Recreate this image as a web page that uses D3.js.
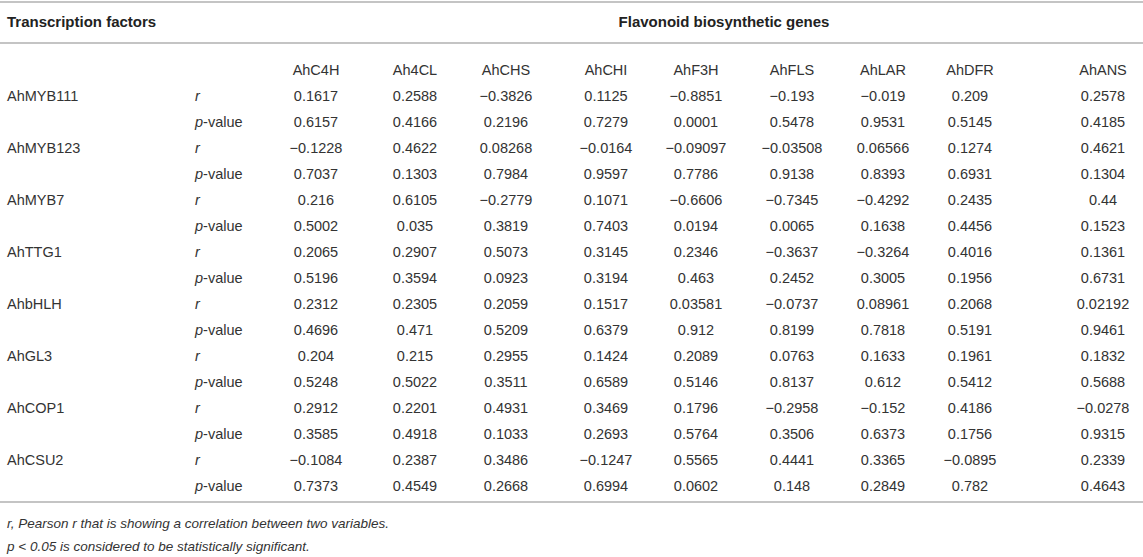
<!DOCTYPE html>
<html>
<head>
<meta charset="utf-8">
<script src="https://cdn.jsdelivr.net/npm/d3@7"></script>
<style>
  body { margin: 0; background: #fff; }
  svg { display: block; font-family: "Liberation Sans", Arial, Helvetica, sans-serif; }
  .cell { font-size: 14.5px; fill: #333; }
  .head { font-size: 15px; font-weight: bold; fill: #222; }
  .note { font-size: 13.5px; font-style: italic; fill: #333; }
  .rule { stroke: #c4c4c4; stroke-width: 2; }
</style>
</head>
<body>
<svg id="table"></svg>
<script>
(function () {
  const factors = ["AhMYB111", "AhMYB123", "AhMYB7", "AhTTG1", "AhbHLH", "AhGL3", "AhCOP1", "AhCSU2"];
  const genes = ["AhC4H", "Ah4CL", "AhCHS", "AhCHI", "AhF3H", "AhFLS", "AhLAR", "AhDFR", "AhANS"];

  // Pearson r, one row per factor, one column per gene
  const rValues = [
    [0.1617, 0.2588, -0.3826, 0.1125, -0.8851, -0.193, -0.019, 0.209, 0.2578],
    [-0.1228, 0.4622, 0.08268, -0.0164, -0.09097, -0.03508, 0.06566, 0.1274, 0.4621],
    [0.216, 0.6105, -0.2779, 0.1071, -0.6606, -0.7345, -0.4292, 0.2435, 0.44],
    [0.2065, 0.2907, 0.5073, 0.3145, 0.2346, -0.3637, -0.3264, 0.4016, 0.1361],
    [0.2312, 0.2305, 0.2059, 0.1517, 0.03581, -0.0737, 0.08961, 0.2068, 0.02192],
    [0.204, 0.215, 0.2955, 0.1424, 0.2089, 0.0763, 0.1633, 0.1961, 0.1832],
    [0.2912, 0.2201, 0.4931, 0.3469, 0.1796, -0.2958, -0.152, 0.4186, -0.0278],
    [-0.1084, 0.2387, 0.3486, -0.1247, 0.5565, 0.4441, 0.3365, -0.0895, 0.2339]
  ];

  // p-values, same layout
  const pValues = [
    [0.6157, 0.4166, 0.2196, 0.7279, 0.0001, 0.5478, 0.9531, 0.5145, 0.4185],
    [0.7037, 0.1303, 0.7984, 0.9597, 0.7786, 0.9138, 0.8393, 0.6931, 0.1304],
    [0.5002, 0.035, 0.3819, 0.7403, 0.0194, 0.0065, 0.1638, 0.4456, 0.1523],
    [0.5196, 0.3594, 0.0923, 0.3194, 0.463, 0.2452, 0.3005, 0.1956, 0.6731],
    [0.4696, 0.471, 0.5209, 0.6379, 0.912, 0.8199, 0.7818, 0.5191, 0.9461],
    [0.5248, 0.5022, 0.3511, 0.6589, 0.5146, 0.8137, 0.612, 0.5412, 0.5688],
    [0.3585, 0.4918, 0.1033, 0.2693, 0.5764, 0.3506, 0.6373, 0.1756, 0.9315],
    [0.7373, 0.4549, 0.2668, 0.6994, 0.0602, 0.148, 0.2849, 0.782, 0.4643]
  ];

  const notes = [
    "r, Pearson r that is showing a correlation between two variables.",
    "p < 0.05 is considered to be statistically significant."
  ];

  const width = 1143, height = 557;
  const svg = d3.select("#table").attr("width", width).attr("height", height);

  const fmt = v => String(v).replace("-", "\u2212");

  // column centres (html table columns are not all the same width)
  const colCenters = [316, 415, 506, 606, 696, 792, 883, 970, 1103];
  const x = d3.scaleOrdinal().domain(genes).range(colCenters);
  const rows = factors.flatMap(f => [f + "|r", f + "|p"]);
  const y = d3.scalePoint().domain(["genes"].concat(rows)).range([70, 486]);

  const labelX = 7, statX = 195;

  // rules
  [2, 43, 502].forEach(ry => {
    svg.append("line").attr("class", "rule")
      .attr("x1", 0).attr("x2", width).attr("y1", ry).attr("y2", ry);
  });

  // header
  svg.append("text").attr("class", "head")
    .attr("x", labelX).attr("y", 22).attr("dy", "0.35em")
    .text("Transcription factors");

  svg.append("text").attr("class", "head")
    .attr("x", 724).attr("y", 22).attr("dy", "0.35em")
    .attr("text-anchor", "middle")
    .text("Flavonoid biosynthetic genes");

  svg.selectAll("text.gene").data(genes).enter().append("text")
    .attr("class", "cell gene")
    .attr("x", d => x(d)).attr("y", y("genes")).attr("dy", "0.35em")
    .attr("text-anchor", "middle")
    .text(d => d);

  // factor names
  svg.selectAll("text.factor").data(factors).enter().append("text")
    .attr("class", "cell factor")
    .attr("x", labelX).attr("y", d => y(d + "|r")).attr("dy", "0.35em")
    .text(d => d);

  // r / p-value labels
  factors.forEach(f => {
    svg.append("text").attr("class", "cell")
      .attr("x", statX).attr("y", y(f + "|r")).attr("dy", "0.35em")
      .style("font-style", "italic")
      .text("r");
    const pt = svg.append("text").attr("class", "cell")
      .attr("x", statX).attr("y", y(f + "|p")).attr("dy", "0.35em");
    pt.append("tspan").style("font-style", "italic").text("p");
    pt.append("tspan").text("-value");
  });

  // values
  const cells = factors.flatMap((f, i) => genes.flatMap((g, j) => [
    { row: f + "|r", gene: g, value: rValues[i][j] },
    { row: f + "|p", gene: g, value: pValues[i][j] }
  ]));

  svg.selectAll("text.val").data(cells).enter().append("text")
    .attr("class", "cell val")
    .attr("x", d => x(d.gene)).attr("y", d => y(d.row)).attr("dy", "0.35em")
    .attr("text-anchor", "middle")
    .text(d => fmt(d.value));

  // footnotes
  svg.selectAll("text.note").data(notes).enter().append("text")
    .attr("class", "note")
    .attr("x", labelX).attr("y", (d, i) => 523 + i * 23).attr("dy", "0.35em")
    .text(d => d);
})();
</script>
</body>
</html>
